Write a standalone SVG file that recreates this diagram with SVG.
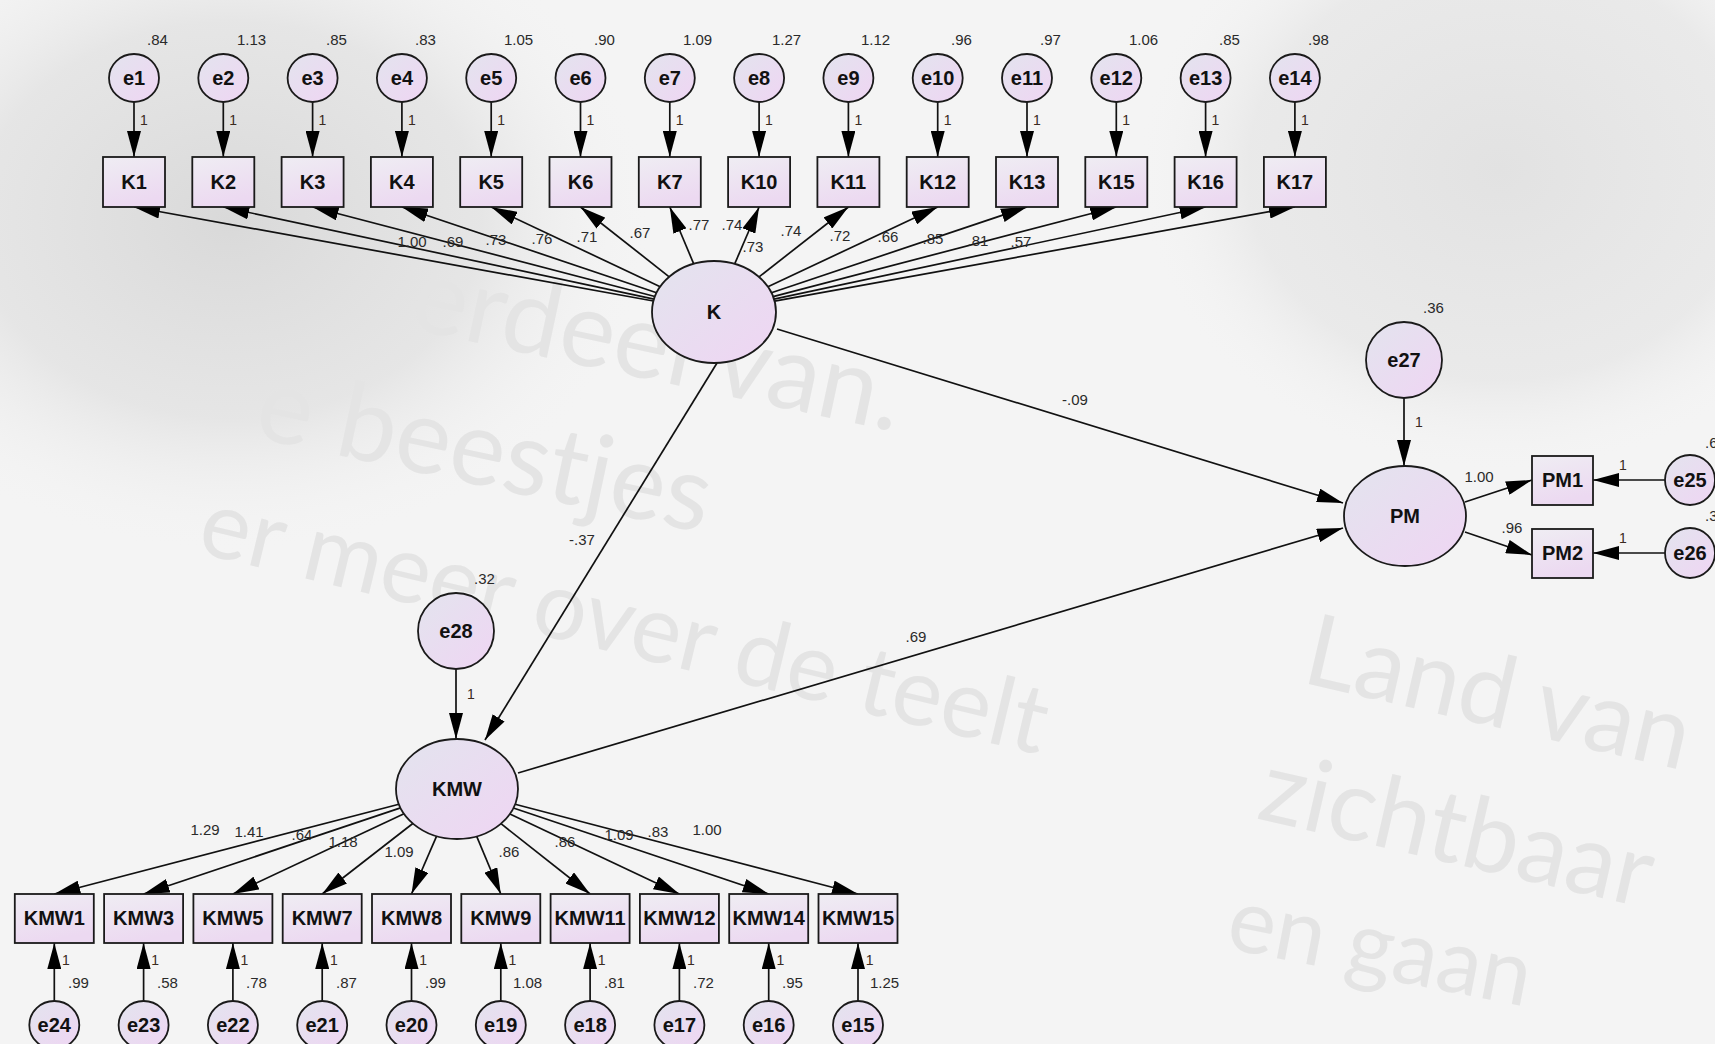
<svg xmlns="http://www.w3.org/2000/svg" width="1715" height="1044" viewBox="0 0 1715 1044">
<style>
.nd{stroke:#1a1a1a;stroke-width:1.8;fill:url(#gf)}
.bx{stroke:#1a1a1a;stroke-width:1.8;fill:url(#gb)}
.nl{font-family:"Liberation Sans",Arial,sans-serif;font-weight:bold;font-size:20px;fill:#111;text-anchor:middle}
.pl{font-family:"Liberation Sans",Arial,sans-serif;font-size:15px;fill:#2a2a2a}
.one{font-family:"Liberation Sans",Arial,sans-serif;font-size:14px;fill:#3a2a20}
.c{stroke:#111;stroke-width:1.7;fill:none;marker-end:url(#ah)}
.wm{font-family:Lato,"Open Sans",sans-serif;fill:#e4e4e4}
</style>
<defs>
<linearGradient id="gf" x1="0" y1="0" x2="1" y2="1">
<stop offset="0" stop-color="#e3e4ee"/><stop offset="1" stop-color="#efd5f3"/>
</linearGradient>
<linearGradient id="gb" x1="0" y1="0" x2="0.3" y2="1">
<stop offset="0" stop-color="#efedf3"/><stop offset="1" stop-color="#ecd9f1"/>
</linearGradient>
<radialGradient id="bgL" cx="0.5" cy="0.5" r="0.5">
<stop offset="0" stop-color="#d9d9d9"/><stop offset="0.6" stop-color="#e2e2e2" stop-opacity="0.8"/><stop offset="1" stop-color="#f3f3f3" stop-opacity="0"/>
</radialGradient>
<radialGradient id="bgR" cx="0.5" cy="0.5" r="0.5">
<stop offset="0" stop-color="#e2e2e2"/><stop offset="0.7" stop-color="#e7e7e7" stop-opacity="0.8"/><stop offset="1" stop-color="#f3f3f3" stop-opacity="0"/>
</radialGradient>
<marker id="ah" markerUnits="userSpaceOnUse" markerWidth="26" markerHeight="14" refX="26" refY="7" orient="auto">
<path d="M0,0 L26,7 L0,14 z" fill="#000"/>
</marker>
</defs>

<g id="background">
<rect x="0" y="0" width="1715" height="1044" fill="#f4f4f4"/>
<ellipse cx="230" cy="220" rx="420" ry="330" fill="url(#bgL)"/>
<ellipse cx="1500" cy="170" rx="360" ry="300" fill="url(#bgR)"/>
<text class="wm" font-size="105" transform="translate(407,328) rotate(12)">erdeel van.</text>
<text class="wm" font-size="105" transform="translate(252,437) rotate(12)">e beestjes</text>
<text class="wm" font-size="95" transform="translate(195,552) rotate(13.5)">er meer over de teelt</text>
<text class="wm" font-size="100" transform="translate(1300,682) rotate(13)">Land van</text>
<text class="wm" font-size="100" transform="translate(1255,818) rotate(13)">zichtbaar</text>
<text class="wm" font-size="90" transform="translate(1224,948) rotate(11)">en gaan</text>
</g>

<g id="connectors">
<path class="c" d="M134,102 V157"/>
<path class="c" d="M223.3,102 V157"/>
<path class="c" d="M312.6,102 V157"/>
<path class="c" d="M401.9,102 V157"/>
<path class="c" d="M491.2,102 V157"/>
<path class="c" d="M580.5,102 V157"/>
<path class="c" d="M669.8,102 V157"/>
<path class="c" d="M759.1,102 V157"/>
<path class="c" d="M848.4,102 V157"/>
<path class="c" d="M937.7,102 V157"/>
<path class="c" d="M1027,102 V157"/>
<path class="c" d="M1116.3,102 V157"/>
<path class="c" d="M1205.6,102 V157"/>
<path class="c" d="M1294.9,102 V157"/>
<path class="c" d="M653.4,301 L134,207"/>
<path class="c" d="M654,299.2 L223.3,207"/>
<path class="c" d="M654.9,296.5 L312.6,207"/>
<path class="c" d="M656.6,292.7 L401.9,207"/>
<path class="c" d="M660.2,286.7 L491.2,207"/>
<path class="c" d="M669.2,276.8 L580.5,207"/>
<path class="c" d="M693.7,263.8 L669.8,207"/>
<path class="c" d="M734.7,263.9 L759.1,207"/>
<path class="c" d="M759,276.9 L848.4,207"/>
<path class="c" d="M767.9,286.7 L937.7,207"/>
<path class="c" d="M771.4,292.7 L1027,207"/>
<path class="c" d="M773.1,296.6 L1116.3,207"/>
<path class="c" d="M774,299.2 L1205.6,207"/>
<path class="c" d="M774.6,301.1 L1294.9,207"/>
<path class="c" d="M717,363 L485,740"/>
<path class="c" d="M777,329 L1343,503"/>
<path class="c" d="M518,773 L1343,528"/>
<path class="c" d="M456,669 V739"/>
<path class="c" d="M1404,398 V466"/>
<path class="c" d="M1465,502 L1532,480"/>
<path class="c" d="M1465,532 L1532,555"/>
<path class="c" d="M1665,480 H1593"/>
<path class="c" d="M1665,553 H1593"/>
<path class="c" d="M398.9,804.2 L54.3,894"/>
<path class="c" d="M400.5,807.9 L143.6,894"/>
<path class="c" d="M404,813.8 L232.9,894"/>
<path class="c" d="M412.8,823.5 L322.2,894"/>
<path class="c" d="M436.6,836.1 L411.5,894"/>
<path class="c" d="M476.7,836.3 L500.8,894"/>
<path class="c" d="M501,823.7 L590.1,894"/>
<path class="c" d="M509.9,814 L679.4,894"/>
<path class="c" d="M513.4,808 L768.7,894"/>
<path class="c" d="M515.1,804.2 L858,894"/>
<path class="c" d="M54.3,1001 V943"/>
<path class="c" d="M143.6,1001 V943"/>
<path class="c" d="M232.9,1001 V943"/>
<path class="c" d="M322.2,1001 V943"/>
<path class="c" d="M411.5,1001 V943"/>
<path class="c" d="M500.8,1001 V943"/>
<path class="c" d="M590.1,1001 V943"/>
<path class="c" d="M679.4,1001 V943"/>
<path class="c" d="M768.7,1001 V943"/>
<path class="c" d="M858,1001 V943"/>
</g>

<g id="path-labels">
<text class="one" x="140" y="125">1</text>
<text class="one" x="229.3" y="125">1</text>
<text class="one" x="318.6" y="125">1</text>
<text class="one" x="407.9" y="125">1</text>
<text class="one" x="497.2" y="125">1</text>
<text class="one" x="586.5" y="125">1</text>
<text class="one" x="675.8" y="125">1</text>
<text class="one" x="765.1" y="125">1</text>
<text class="one" x="854.4" y="125">1</text>
<text class="one" x="943.7" y="125">1</text>
<text class="one" x="1033" y="125">1</text>
<text class="one" x="1122.3" y="125">1</text>
<text class="one" x="1211.6" y="125">1</text>
<text class="one" x="1300.9" y="125">1</text>
<g class="pl" text-anchor="middle">
<text x="412" y="247">1.00</text>
<text x="453" y="247">.69</text>
<text x="496" y="245">.73</text>
<text x="542" y="244">.76</text>
<text x="587" y="242">.71</text>
<text x="640" y="238">.67</text>
<text x="699" y="230">.77</text>
<text x="732" y="230">.74</text>
<text x="753" y="252">.73</text>
<text x="791" y="236">.74</text>
<text x="840" y="241">.72</text>
<text x="888" y="242">.66</text>
<text x="933" y="244">.85</text>
<text x="978" y="246">.81</text>
<text x="1021" y="247">.57</text>
<text x="582" y="545">-.37</text>
<text x="1075" y="405">-.09</text>
<text x="916" y="642">.69</text>
<text x="1479" y="482">1.00</text>
<text x="1512" y="533">.96</text>
<text x="205" y="835">1.29</text>
<text x="249" y="837">1.41</text>
<text x="302" y="840">.64</text>
<text x="343" y="847">1.18</text>
<text x="399" y="857">1.09</text>
<text x="509" y="857">.86</text>
<text x="565" y="847">.86</text>
<text x="619" y="840">1.09</text>
<text x="658" y="837">.83</text>
<text x="707" y="835">1.00</text>
</g>
<text class="one" x="467" y="699">1</text>
<text class="one" x="1415" y="427">1</text>
<text class="one" x="1619" y="470">1</text>
<text class="one" x="1619" y="543">1</text>
<text class="one" x="62" y="965">1</text>
<text class="one" x="151.3" y="965">1</text>
<text class="one" x="240.6" y="965">1</text>
<text class="one" x="329.9" y="965">1</text>
<text class="one" x="419.2" y="965">1</text>
<text class="one" x="508.5" y="965">1</text>
<text class="one" x="597.8" y="965">1</text>
<text class="one" x="687.1" y="965">1</text>
<text class="one" x="776.4" y="965">1</text>
<text class="one" x="865.7" y="965">1</text>
</g>

<g id="e1"><ellipse class="nd" cx="134" cy="78" rx="25" ry="24"/><text class="nl" x="134" y="85">e1</text><text class="pl" x="147" y="45">.84</text></g>
<g id="e2"><ellipse class="nd" cx="223.3" cy="78" rx="25" ry="24"/><text class="nl" x="223.3" y="85">e2</text><text class="pl" x="237" y="45">1.13</text></g>
<g id="e3"><ellipse class="nd" cx="312.6" cy="78" rx="25" ry="24"/><text class="nl" x="312.6" y="85">e3</text><text class="pl" x="326" y="45">.85</text></g>
<g id="e4"><ellipse class="nd" cx="401.9" cy="78" rx="25" ry="24"/><text class="nl" x="401.9" y="85">e4</text><text class="pl" x="415" y="45">.83</text></g>
<g id="e5"><ellipse class="nd" cx="491.2" cy="78" rx="25" ry="24"/><text class="nl" x="491.2" y="85">e5</text><text class="pl" x="504" y="45">1.05</text></g>
<g id="e6"><ellipse class="nd" cx="580.5" cy="78" rx="25" ry="24"/><text class="nl" x="580.5" y="85">e6</text><text class="pl" x="594" y="45">.90</text></g>
<g id="e7"><ellipse class="nd" cx="669.8" cy="78" rx="25" ry="24"/><text class="nl" x="669.8" y="85">e7</text><text class="pl" x="683" y="45">1.09</text></g>
<g id="e8"><ellipse class="nd" cx="759.1" cy="78" rx="25" ry="24"/><text class="nl" x="759.1" y="85">e8</text><text class="pl" x="772" y="45">1.27</text></g>
<g id="e9"><ellipse class="nd" cx="848.4" cy="78" rx="25" ry="24"/><text class="nl" x="848.4" y="85">e9</text><text class="pl" x="861" y="45">1.12</text></g>
<g id="e10"><ellipse class="nd" cx="937.7" cy="78" rx="25" ry="24"/><text class="nl" x="937.7" y="85">e10</text><text class="pl" x="951" y="45">.96</text></g>
<g id="e11"><ellipse class="nd" cx="1027" cy="78" rx="25" ry="24"/><text class="nl" x="1027" y="85">e11</text><text class="pl" x="1040" y="45">.97</text></g>
<g id="e12"><ellipse class="nd" cx="1116.3" cy="78" rx="25" ry="24"/><text class="nl" x="1116.3" y="85">e12</text><text class="pl" x="1129" y="45">1.06</text></g>
<g id="e13"><ellipse class="nd" cx="1205.6" cy="78" rx="25" ry="24"/><text class="nl" x="1205.6" y="85">e13</text><text class="pl" x="1219" y="45">.85</text></g>
<g id="e14"><ellipse class="nd" cx="1294.9" cy="78" rx="25" ry="24"/><text class="nl" x="1294.9" y="85">e14</text><text class="pl" x="1308" y="45">.98</text></g>

<g id="K1"><rect class="bx" x="103" y="157" width="62" height="50"/><text class="nl" x="134" y="189">K1</text></g>
<g id="K2"><rect class="bx" x="192.3" y="157" width="62" height="50"/><text class="nl" x="223.3" y="189">K2</text></g>
<g id="K3"><rect class="bx" x="281.6" y="157" width="62" height="50"/><text class="nl" x="312.6" y="189">K3</text></g>
<g id="K4"><rect class="bx" x="370.9" y="157" width="62" height="50"/><text class="nl" x="401.9" y="189">K4</text></g>
<g id="K5"><rect class="bx" x="460.2" y="157" width="62" height="50"/><text class="nl" x="491.2" y="189">K5</text></g>
<g id="K6"><rect class="bx" x="549.5" y="157" width="62" height="50"/><text class="nl" x="580.5" y="189">K6</text></g>
<g id="K7"><rect class="bx" x="638.8" y="157" width="62" height="50"/><text class="nl" x="669.8" y="189">K7</text></g>
<g id="K10"><rect class="bx" x="728.1" y="157" width="62" height="50"/><text class="nl" x="759.1" y="189">K10</text></g>
<g id="K11"><rect class="bx" x="817.4" y="157" width="62" height="50"/><text class="nl" x="848.4" y="189">K11</text></g>
<g id="K12"><rect class="bx" x="906.7" y="157" width="62" height="50"/><text class="nl" x="937.7" y="189">K12</text></g>
<g id="K13"><rect class="bx" x="996" y="157" width="62" height="50"/><text class="nl" x="1027" y="189">K13</text></g>
<g id="K15"><rect class="bx" x="1085.3" y="157" width="62" height="50"/><text class="nl" x="1116.3" y="189">K15</text></g>
<g id="K16"><rect class="bx" x="1174.6" y="157" width="62" height="50"/><text class="nl" x="1205.6" y="189">K16</text></g>
<g id="K17"><rect class="bx" x="1263.9" y="157" width="62" height="50"/><text class="nl" x="1294.9" y="189">K17</text></g>

<g id="K"><ellipse class="nd" cx="714" cy="312" rx="62" ry="51"/><text class="nl" x="714" y="319">K</text></g>
<g id="KMW"><ellipse class="nd" cx="457" cy="789" rx="61" ry="50"/><text class="nl" x="457" y="796">KMW</text></g>
<g id="PM"><ellipse class="nd" cx="1405" cy="516" rx="61" ry="50"/><text class="nl" x="1405" y="523">PM</text></g>
<g id="e27"><ellipse class="nd" cx="1404" cy="360" rx="38" ry="38"/><text class="nl" x="1404" y="367">e27</text><text class="pl" x="1423" y="313">.36</text></g>
<g id="e28"><ellipse class="nd" cx="456" cy="631" rx="38" ry="38"/><text class="nl" x="456" y="638">e28</text><text class="pl" x="474" y="584">.32</text></g>

<g id="PM1"><rect class="bx" x="1532" y="456" width="61" height="49"/><text class="nl" x="1562.5" y="487">PM1</text></g>
<g id="PM2"><rect class="bx" x="1532" y="529" width="61" height="49"/><text class="nl" x="1562.5" y="560">PM2</text></g>
<g id="e25"><ellipse class="nd" cx="1690" cy="480" rx="25" ry="25"/><text class="nl" x="1690" y="487">e25</text><text class="pl" x="1705" y="448">.6</text></g>
<g id="e26"><ellipse class="nd" cx="1690" cy="553" rx="25" ry="25"/><text class="nl" x="1690" y="560">e26</text><text class="pl" x="1705" y="521">.3</text></g>

<g id="KMW1"><rect class="bx" x="14.8" y="894" width="79" height="49"/><text class="nl" x="54.3" y="925">KMW1</text></g>
<g id="KMW3"><rect class="bx" x="104.1" y="894" width="79" height="49"/><text class="nl" x="143.6" y="925">KMW3</text></g>
<g id="KMW5"><rect class="bx" x="193.4" y="894" width="79" height="49"/><text class="nl" x="232.9" y="925">KMW5</text></g>
<g id="KMW7"><rect class="bx" x="282.7" y="894" width="79" height="49"/><text class="nl" x="322.2" y="925">KMW7</text></g>
<g id="KMW8"><rect class="bx" x="372" y="894" width="79" height="49"/><text class="nl" x="411.5" y="925">KMW8</text></g>
<g id="KMW9"><rect class="bx" x="461.3" y="894" width="79" height="49"/><text class="nl" x="500.8" y="925">KMW9</text></g>
<g id="KMW11"><rect class="bx" x="550.6" y="894" width="79" height="49"/><text class="nl" x="590.1" y="925">KMW11</text></g>
<g id="KMW12"><rect class="bx" x="639.9" y="894" width="79" height="49"/><text class="nl" x="679.4" y="925">KMW12</text></g>
<g id="KMW14"><rect class="bx" x="729.2" y="894" width="79" height="49"/><text class="nl" x="768.7" y="925">KMW14</text></g>
<g id="KMW15"><rect class="bx" x="818.5" y="894" width="79" height="49"/><text class="nl" x="858" y="925">KMW15</text></g>

<g id="e24"><ellipse class="nd" cx="54.3" cy="1025" rx="25" ry="24"/><text class="nl" x="54.3" y="1032">e24</text><text class="pl" x="68" y="988">.99</text></g>
<g id="e23"><ellipse class="nd" cx="143.6" cy="1025" rx="25" ry="24"/><text class="nl" x="143.6" y="1032">e23</text><text class="pl" x="157" y="988">.58</text></g>
<g id="e22"><ellipse class="nd" cx="232.9" cy="1025" rx="25" ry="24"/><text class="nl" x="232.9" y="1032">e22</text><text class="pl" x="246" y="988">.78</text></g>
<g id="e21"><ellipse class="nd" cx="322.2" cy="1025" rx="25" ry="24"/><text class="nl" x="322.2" y="1032">e21</text><text class="pl" x="336" y="988">.87</text></g>
<g id="e20"><ellipse class="nd" cx="411.5" cy="1025" rx="25" ry="24"/><text class="nl" x="411.5" y="1032">e20</text><text class="pl" x="425" y="988">.99</text></g>
<g id="e19"><ellipse class="nd" cx="500.8" cy="1025" rx="25" ry="24"/><text class="nl" x="500.8" y="1032">e19</text><text class="pl" x="513" y="988">1.08</text></g>
<g id="e18"><ellipse class="nd" cx="590.1" cy="1025" rx="25" ry="24"/><text class="nl" x="590.1" y="1032">e18</text><text class="pl" x="604" y="988">.81</text></g>
<g id="e17"><ellipse class="nd" cx="679.4" cy="1025" rx="25" ry="24"/><text class="nl" x="679.4" y="1032">e17</text><text class="pl" x="693" y="988">.72</text></g>
<g id="e16"><ellipse class="nd" cx="768.7" cy="1025" rx="25" ry="24"/><text class="nl" x="768.7" y="1032">e16</text><text class="pl" x="782" y="988">.95</text></g>
<g id="e15"><ellipse class="nd" cx="858" cy="1025" rx="25" ry="24"/><text class="nl" x="858" y="1032">e15</text><text class="pl" x="870" y="988">1.25</text></g>
</svg>
